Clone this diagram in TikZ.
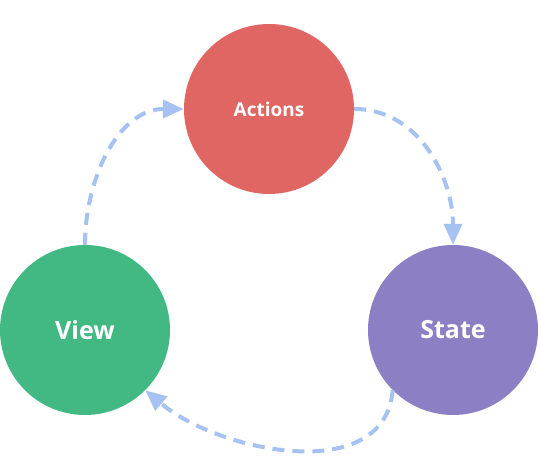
\documentclass[tikz,border=0pt]{standalone}
\usepackage{fontspec}
\setmainfont{Open Sans}
\usetikzlibrary{arrows.meta,positioning}

\definecolor{actred}{HTML}{E06664}
\definecolor{viewgreen}{HTML}{42B883}
\definecolor{statepurple}{HTML}{8C7FC4}
\definecolor{flowblue}{HTML}{A5C2F2}

\tikzset{
  blob/.style={circle,minimum size=170pt,inner sep=0pt,text=white},
  flow/.style={draw=flowblue,line width=4pt,dash pattern=on 12pt off 8pt,
    -{Triangle[length=21pt,width=18pt]}}
}

\begin{document}
\begin{tikzpicture}[x=1pt,y=1pt]
    \useasboundingbox (0,0) rectangle (539,460);
    \node[blob,fill=actred,font=\fontsize{19}{23}\selectfont\bfseries] (A) at (269,351) {Actions};
    \node[blob,fill=viewgreen,font=\fontsize{25}{29}\selectfont\bfseries] (V) at (85,130) {View};
    \node[blob,fill=statepurple,font=\fontsize{25}{29}\selectfont\bfseries] (S) at (453,130) {State};
    \draw[flow] (V.north) to[out=90,in=180] (A.west);
    \draw[flow] (A.east) to[out=0,in=90] (S.north);
    \draw[flow] (S.south west) to[out=-95,in=-40] (V.south east);
  \end{tikzpicture}
\end{document}
